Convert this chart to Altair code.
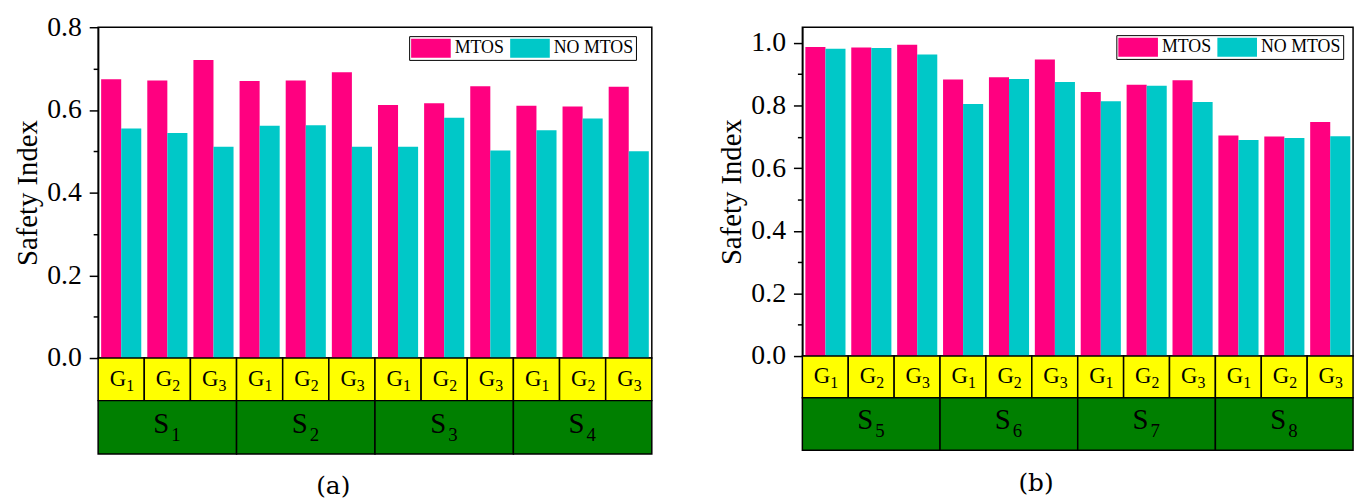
import altair as alt
import pandas as pd

series_names = ["MTOS", "NO MTOS"]
group_ids = ["1", "2", "3"]
scen_a = ["1", "2", "3", "4"]
scen_b = ["5", "6", "7", "8"]

mtos_a = [0.674, 0.671, 0.721, 0.670, 0.671, 0.691, 0.612, 0.616, 0.657, 0.610, 0.608, 0.656]
nomtos_a = [0.555, 0.544, 0.511, 0.562, 0.563, 0.511, 0.511, 0.581, 0.502, 0.551, 0.579, 0.500]
mtos_b = [0.987, 0.985, 0.994, 0.883, 0.890, 0.947, 0.843, 0.866, 0.881, 0.704, 0.701, 0.747]
nomtos_b = [0.981, 0.984, 0.963, 0.805, 0.885, 0.875, 0.814, 0.863, 0.811, 0.690, 0.696, 0.702]

ticks_a = [0.0, 0.1, 0.2, 0.3, 0.4, 0.5, 0.6, 0.7, 0.8]
ticks_b = [0.0, 0.1, 0.2, 0.3, 0.4, 0.5, 0.6, 0.7, 0.8, 0.9, 1.0]

PINK = "#FF0080"
CYAN = "#00C8C8"
YELLOW = "#FFFF00"
GREEN = "#007F00"
SERIF = "Liberation Serif"


def panel(scens, mtos, nomtos, ymax, ticks, w, h, row_g, row_s, label, lx, ly):
    slots, bar_rows, g_rows = [], [], []
    for si, s in enumerate(scens):
        for gi, g in enumerate(group_ids):
            slot = f"S{s}-G{g}"
            slots.append(slot)
            k = si * 3 + gi
            bar_rows.append({"slot": slot, "series": series_names[0], "value": mtos[k]})
            bar_rows.append({"slot": slot, "series": series_names[1], "value": nomtos[k]})
            g_rows.append({"slot": slot, "letter": "G", "sub": g})
    bars_df = pd.DataFrame(bar_rows)
    g_df = pd.DataFrame(g_rows)
    s_df = pd.DataFrame({"scen": [f"S{s}" for s in scens], "letter": "S", "sub": scens})
    scen_order = list(s_df["scen"])

    xs = alt.X("slot:N", sort=slots, scale=alt.Scale(paddingInner=0, paddingOuter=0), axis=None)
    xsc = alt.X("scen:N", sort=scen_order, scale=alt.Scale(paddingInner=0, paddingOuter=0), axis=None)

    bars = alt.Chart(bars_df).mark_bar(stroke=None).encode(
        x=xs,
        xOffset=alt.XOffset("series:N", sort=series_names,
                            scale=alt.Scale(paddingInner=0, paddingOuter=0.15)),
        y=alt.Y("value:Q",
                scale=alt.Scale(domain=[0, ymax], nice=False, zero=True),
                axis=alt.Axis(values=ticks, title="Safety Index", grid=False,
                              labelExpr="round(datum.value*10) % 2 == 0 ? format(datum.value, '.1f') : ''",
                              tickSize={"condition": {"test": "round(datum.value*10) % 2 == 0", "value": 9}, "value": 5},
                              labelFont=SERIF, labelFontSize=28, labelPadding=8,
                              titleFont=SERIF, titleFontSize=29, titleFontWeight="normal",
                              titlePadding=4, labelColor="black", titleColor="black")),
        color=alt.Color("series:N", sort=series_names,
                        scale=alt.Scale(domain=series_names, range=[PINK, CYAN]),
                        legend=alt.Legend(orient="none", legendX=lx, legendY=ly, direction="horizontal",
                                          title=None, symbolType="M-1,-0.95H3V0.95H-1Z", symbolSize=400,
                                          symbolStrokeWidth=0, labelFont=SERIF, labelFontSize=18,
                                          labelColor="black", strokeColor="black", fillColor="white",
                                          padding=2, columnPadding=6, labelOffset=24)),
    )

    gcell = alt.Chart(g_df).mark_rect(fill=YELLOW, stroke="black", strokeWidth=1.5).encode(
        x=xs, y=alt.value(h), y2=alt.value(h + row_g))
    gtxt = alt.Chart(g_df).mark_text(align="right", baseline="alphabetic", dx=5, font=SERIF,
                                     fontSize=23, color="black").encode(
        x=xs, y=alt.value(h + row_g * 0.65), text="letter:N")
    gsub = alt.Chart(g_df).mark_text(align="left", baseline="alphabetic", dx=5, font=SERIF,
                                     fontSize=16, color="black").encode(
        x=xs, y=alt.value(h + row_g * 0.65 + 5), text="sub:N")

    scell = alt.Chart(s_df).mark_rect(fill=GREEN, stroke="black", strokeWidth=1.5).encode(
        x=xsc, y=alt.value(h + row_g), y2=alt.value(h + row_g + row_s))
    stxt = alt.Chart(s_df).mark_text(align="right", baseline="alphabetic", dx=2, font=SERIF,
                                     fontSize=29, color="black").encode(
        x=xsc, y=alt.value(h + row_g + row_s * 0.6), text="letter:N")
    ssub = alt.Chart(s_df).mark_text(align="left", baseline="alphabetic", dx=4, font=SERIF,
                                     fontSize=19, color="black").encode(
        x=xsc, y=alt.value(h + row_g + row_s * 0.6 + 8), text="sub:N")

    return alt.layer(bars, gcell, gtxt, gsub, scell, stxt, ssub).resolve_scale(
        x="independent").properties(
        width=w, height=h,
        title=alt.TitleParams(label, orient="bottom", anchor="middle", frame="bounds",
                              font="DejaVu Serif", fontSize=25, fontWeight="normal",
                              color="black", offset=20))


pa = panel(scen_a, mtos_a, nomtos_a, 0.8, ticks_a, 559, 334, 43, 54, "(a)", 314, 9)
pb = panel(scen_b, mtos_b, nomtos_b, 1.05, ticks_b, 556, 332, 42, 53, "(b)", 317, 8)

chart = alt.hconcat(pa, pb, spacing=64).resolve_scale(color="independent").resolve_legend(
    color="independent").properties(
    padding={"left": 5, "right": 5, "top": 2, "bottom": 5}).configure_view(
    stroke="black", strokeWidth=1.5).configure_axis(
    domainColor="black", domainWidth=1.5, tickColor="black", tickWidth=1.5)

chart.save("out.html", embed_options={"renderer": "svg", "actions": False})
